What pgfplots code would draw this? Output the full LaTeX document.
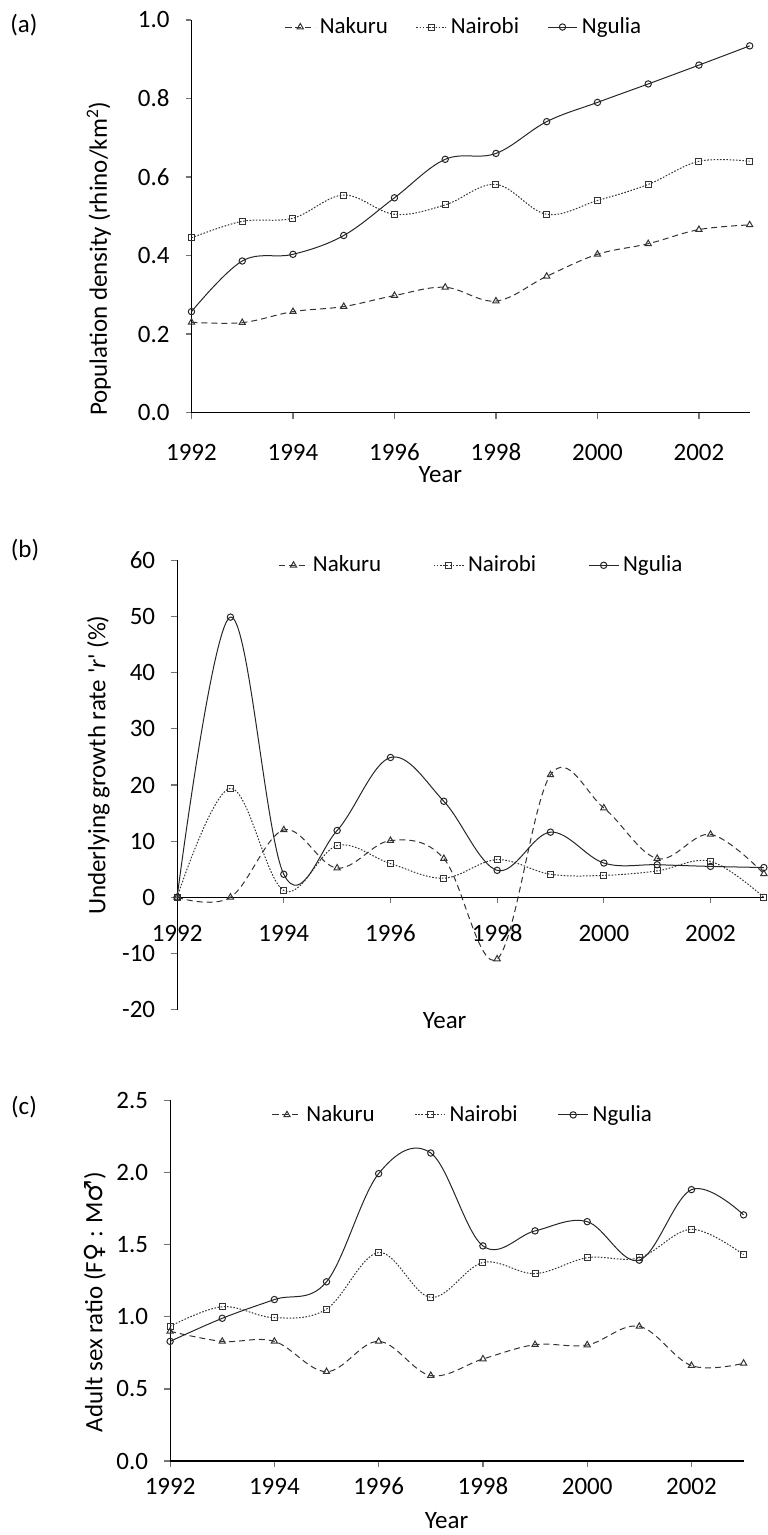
\documentclass[border=0pt]{standalone}
\usepackage{pgfplots}
\pgfplotsset{compat=1.18}
\usepackage{pgfplotstable}
\usepackage{fontspec}
\setmainfont{Carlito}
\newfontfamily\symfont{DejaVu Sans}

\pgfplotstableread{
year nak nai ngu
1992 0.230 0.445 0.257
1993 0.229 0.487 0.386
1994 0.257 0.495 0.403
1995 0.270 0.554 0.451
1996 0.298 0.505 0.547
1997 0.319 0.529 0.645
1998 0.284 0.581 0.660
1999 0.347 0.505 0.741
2000 0.403 0.540 0.790
2001 0.430 0.581 0.837
2002 0.466 0.640 0.885
2003 0.478 0.640 0.934
}\tabA

\pgfplotstableread{
year nak nai ngu
1992 0.0 0.0 0.0
1993 0.0 19.4 49.9
1994 12.0 1.2 4.1
1995 5.2 9.2 11.9
1996 10.1 6.0 24.9
1997 6.9 3.4 17.1
1998 -11.0 6.7 4.8
1999 21.8 4.1 11.6
2000 15.9 3.9 6.1
2001 6.9 4.7 5.8
2002 11.2 6.4 5.5
2003 4.2 0.0 5.3
}\tabB

\pgfplotstableread{
year nak nai ngu
1992 0.90 0.934 0.83
1993 0.83 1.07 0.99
1994 0.83 0.994 1.12
1995 0.62 1.054 1.243
1996 0.83 1.446 1.993
1997 0.593 1.135 2.136
1998 0.708 1.377 1.492
1999 0.807 1.30 1.596
2000 0.805 1.41 1.66
2001 0.934 1.41 1.393
2002 0.662 1.607 1.882
2003 0.678 1.43 1.707
}\tabC

\newcommand{\ff}{\fontsize{12.5}{15}\selectfont}
\newcommand{\lf}{\fontsize{11.5}{14}\selectfont}

\pgfplotsset{
  rhino/.style={
    scale only axis, clip=false,
    xmin=1992, xmax=2003,
    xtick={1992,1994,1996,1998,2000,2002},
    xticklabels={1992,1994,1996,1998,2000,2002},
    tick align=outside,
    major tick length=3pt,
    tick style={black!55, line width=0.6pt},
    axis line style={black, line width=0.6pt},
    font=\ff,
    tick label style={font=\ff},
    yticklabel style={xshift=-4.5pt},
    every axis y label/.style={rotate=90, anchor=center, font=\ff},
    every axis x label/.style={anchor=center, font=\ff},
    legend style={draw=none, fill=none, legend columns=3, anchor=center, font=\lf, inner sep=0pt},
    legend image code/.code={\draw[mark repeat=2,mark phase=2] plot coordinates {(0pt,0pt) (7.5pt,0pt) (15pt,0pt)};},
    legend entries={Nakuru,Nairobi,Ngulia},
  },
  nak/.style={black!80, line width=0.5pt, dash pattern=on 3pt off 2pt, smooth, tension=0.6, mark=triangle, mark size=1.8pt, mark options={solid, fill=white}},
  nai/.style={black!80, line width=0.5pt, dash pattern=on 0.8pt off 0.8pt, smooth, tension=0.6, mark=square, mark size=1.5pt, mark options={solid, fill=white}},
  ngu/.style={black!85, line width=0.5pt, solid, smooth, tension=0.6, mark=o, mark size=1.6pt, mark options={solid, fill=white}},
}

\begin{document}
\begin{tikzpicture}
\path (0pt,0pt) rectangle (384pt,767.5pt);

% (a)
\begin{axis}[rhino, at={(95.85pt,561pt)}, anchor=south west,
  width=279.4pt, height=196.5pt,
  axis lines*=left,
  ymin=0, ymax=1,
  ytick={0,0.2,0.4,0.6,0.8,1.0},
  yticklabels={0.0,0.2,0.4,0.6,0.8,1.0},
  xticklabel style={anchor=base, yshift=-21pt},
  ylabel={Population density (rhino/km\textsuperscript{2})},
  ylabel style={at={(axis description cs:-0.166,0.392)}},
  xlabel={Year},
  xlabel style={at={(axis description cs:0.446,-0.158)}},
  legend style={at={(axis description cs:0.490,0.982)}, /tikz/every even column/.append style={column sep=12pt}},
]
\addplot[nak] table[x=year,y=nak]{\tabA};
\addplot[nai] table[x=year,y=nai]{\tabA};
\addplot[ngu] table[x=year,y=ngu]{\tabA};
\end{axis}

% (b)
\begin{axis}[rhino, at={(88.65pt,262.15pt)}, anchor=south west,
  width=293.7pt, height=224.85pt,
  axis x line*=middle, axis y line*=left,
  hide obscured x ticks=false, hide obscured y ticks=false,
  ymin=-20, ymax=60,
  ytick={-20,-10,0,10,20,30,40,50,60},
  yticklabels={-20,-10,0,10,20,30,40,50,60},
  xticklabel style={anchor=base, yshift=-19pt},
  ylabel={Underlying growth rate \textquotesingle\textit{r}\textquotesingle\ (\%)},
  ylabel style={at={(axis description cs:-0.134,0.544)}},
  xlabel={Year},
  xlabel style={at={(axis description cs:0.456,-0.025)}},
  legend style={at={(axis description cs:0.520,0.989)}, /tikz/every even column/.append style={column sep=24pt}},
]
\addplot[nak] table[x=year,y=nak]{\tabB};
\addplot[nai] table[x=year,y=nai]{\tabB};
\addplot[ngu] table[x=year,y=ngu]{\tabB};
\end{axis}

% (c)
\begin{axis}[rhino, at={(85.15pt,36.15pt)}, anchor=south west,
  width=287.05pt, height=180.5pt,
  axis lines*=left,
  ymin=0, ymax=2.5,
  ytick={0,0.5,1.0,1.5,2.0,2.5},
  yticklabels={0.0,0.5,1.0,1.5,2.0,2.5},
  xticklabel style={anchor=base, yshift=-13.5pt},
  ylabel={Adult sex ratio (F{\symfont ♀} : M{\symfont ♂})},
  ylabel style={at={(axis description cs:-0.131,0.441)}},
  xlabel={Year},
  xlabel style={at={(axis description cs:0.482,-0.164)}},
  legend style={at={(axis description cs:0.512,0.960)}, /tikz/every even column/.append style={column sep=18pt}},
]
\addplot[nak] table[x=year,y=nak]{\tabC};
\addplot[nai] table[x=year,y=nai]{\tabC};
\addplot[ngu] table[x=year,y=ngu]{\tabC};
\end{axis}

\node[font=\ff] at (12pt,755pt) {(a)};
\node[font=\ff] at (12.5pt,492pt) {(b)};
\node[font=\ff] at (12pt,213.5pt) {(c)};
\end{tikzpicture}
\end{document}
